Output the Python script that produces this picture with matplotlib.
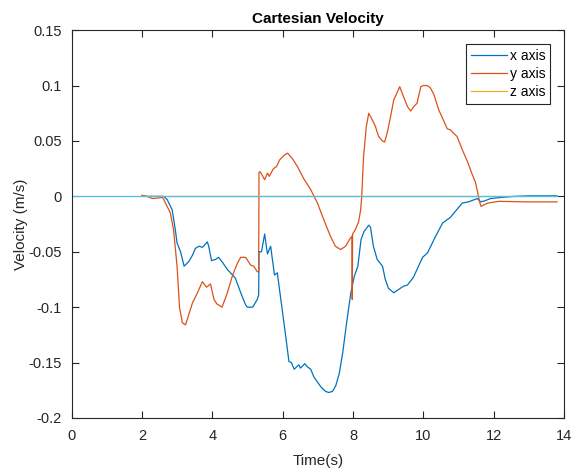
import numpy as np
import matplotlib
matplotlib.use("Agg")
import matplotlib.pyplot as plt

plt.rcParams['font.family'] = ['Liberation Sans', 'DejaVu Sans']

# x axis velocity (blue)
t_x = [2.0, 2.4, 2.62, 2.72, 2.86, 2.95, 3.0, 3.1, 3.2, 3.33, 3.44, 3.52, 3.62, 3.72,
       3.78, 3.86, 3.9, 3.98, 4.09, 4.18, 4.28, 4.43, 4.58, 4.66, 4.81, 4.95, 5.0, 5.15,
       5.28, 5.32, 5.33, 5.4, 5.49, 5.57, 5.66, 5.77, 5.85, 6.0, 6.1, 6.18, 6.25, 6.33,
       6.46, 6.51, 6.63, 6.71, 6.8, 6.89, 7.09, 7.22, 7.31, 7.42, 7.51, 7.61, 7.71, 7.82,
       7.94, 8.04, 8.14, 8.23, 8.31, 8.45, 8.5, 8.58, 8.69, 8.84, 8.92, 9.01, 9.16, 9.3,
       9.44, 9.55, 9.72, 9.85, 9.98, 10.12, 10.35, 10.55, 10.77, 10.95, 11.11, 11.28,
       11.45, 11.54, 11.63, 11.75, 11.91, 12.2, 12.6, 13.0, 13.8]
v_x = [0.0, 0.0, 0.0, -0.003, -0.012, -0.03, -0.042, -0.05, -0.063, -0.059, -0.053,
       -0.047, -0.045, -0.046, -0.044, -0.041, -0.045, -0.058, -0.057, -0.055, -0.059,
       -0.066, -0.071, -0.074, -0.087, -0.098, -0.1, -0.1, -0.093, -0.089, -0.05, -0.05,
       -0.034, -0.052, -0.045, -0.071, -0.069, -0.105, -0.129, -0.149, -0.15, -0.156,
       -0.152, -0.155, -0.151, -0.154, -0.156, -0.163, -0.172, -0.176, -0.177, -0.176,
       -0.171, -0.16, -0.141, -0.114, -0.087, -0.072, -0.063, -0.039, -0.032, -0.026,
       -0.028, -0.045, -0.057, -0.063, -0.075, -0.083, -0.087, -0.084, -0.081, -0.08,
       -0.073, -0.064, -0.055, -0.051, -0.036, -0.024, -0.019, -0.012, -0.006, -0.005,
       -0.003, -0.002, -0.005, -0.004, -0.002, -0.001, 0.0, 0.0005, 0.0005]

# y axis velocity (orange)
t_y = [2.0, 2.15, 2.3, 2.59, 2.67, 2.81, 2.9, 3.0, 3.07, 3.15, 3.24, 3.33, 3.44, 3.58,
       3.72, 3.84, 3.95, 4.05, 4.13, 4.28, 4.43, 4.58, 4.72, 4.81, 4.95, 5.09, 5.18, 5.28,
       5.32, 5.33, 5.37, 5.49, 5.57, 5.62, 5.74, 5.83, 5.92, 6.04, 6.14, 6.28, 6.42, 6.6,
       6.8, 6.99, 7.17, 7.36, 7.5, 7.65, 7.79, 7.9, 7.97, 7.98, 7.99, 8.07, 8.16, 8.22,
       8.25, 8.3, 8.38, 8.45, 8.55, 8.64, 8.73, 8.84, 8.9, 8.98, 9.07, 9.16, 9.26, 9.33,
       9.4, 9.55, 9.64, 9.73, 9.82, 9.93, 10.0, 10.11, 10.2, 10.3, 10.44, 10.54, 10.68,
       10.77, 10.86, 10.96, 11.11, 11.26, 11.4, 11.48, 11.55, 11.6, 11.64, 11.7, 11.84,
       12.15, 13.0, 13.8]
v_y = [0.001, 0.0, -0.002, -0.001, -0.006, -0.015, -0.03, -0.063, -0.1, -0.114, -0.116,
       -0.107, -0.096, -0.087, -0.077, -0.082, -0.079, -0.093, -0.097, -0.1, -0.087,
       -0.071, -0.06, -0.055, -0.055, -0.062, -0.063, -0.068, -0.068, 0.022, 0.022, 0.015,
       0.021, 0.018, 0.025, 0.027, 0.033, 0.037, 0.039, 0.034, 0.027, 0.016, 0.006,
       -0.006, -0.021, -0.036, -0.045, -0.048, -0.045, -0.039, -0.036, -0.093, -0.034,
       -0.03, -0.023, -0.012, 0.0, 0.035, 0.063, 0.075, 0.069, 0.063, 0.054, 0.05, 0.049,
       0.058, 0.072, 0.087, 0.094, 0.099, 0.093, 0.081, 0.077, 0.081, 0.084, 0.099, 0.1,
       0.1, 0.098, 0.092, 0.078, 0.071, 0.061, 0.06, 0.057, 0.054, 0.042, 0.031, 0.019,
       0.013, 0.003, -0.005, -0.009, -0.008, -0.006, -0.0045, -0.005, -0.005]

# z axis velocity (stays at zero)
t_z = [2.0, 13.8]
v_z = [0.0, 0.0]

# zero reference line
t_ref = [0.0, 13.8]
v_ref = [0.0, 0.0]

xticks = [0, 2, 4, 6, 8, 10, 12, 14]
yticks = [-0.2, -0.15, -0.1, -0.05, 0, 0.05, 0.1, 0.15]
ytick_labels = ["-0.2", "-0.15", "-0.1", "-0.05", "0", "0.05", "0.1", "0.15"]

fig = plt.figure(figsize=(5.74, 4.73), dpi=100)
ax = fig.add_axes([0.1246, 0.1163, 0.858, 0.820])

ax.plot(t_x, v_x, color='#0072BD', lw=0.9, label='x axis')
ax.plot(t_y, v_y, color='#D95319', lw=0.9, label='y axis')
ax.plot(t_z, v_z, color='#EDB120', lw=0.9, label='z axis')
ax.plot(t_ref, v_ref, color='#4DBEEE', lw=0.9)

ax.set_xlim(0, 14); ax.set_ylim(-0.2, 0.15)
ax.set_xticks(xticks); ax.set_xticklabels([str(v) for v in xticks])
ax.set_yticks(yticks); ax.set_yticklabels(ytick_labels)
ax.tick_params(direction='in', length=5, width=0.8, top=True, right=True,
               labelsize=10.5, colors='#262626')
ax.tick_params(axis='x', pad=8)
ax.tick_params(axis='y', pad=7)
for s in ax.spines.values():
    s.set_color('#262626'); s.set_linewidth(0.8)

ax.set_xlabel("Time(s)", fontsize=11, color='#262626', labelpad=8)
ax.set_ylabel("Velocity (m/s)", fontsize=11, color='#262626', labelpad=0)
ax.set_title("Cartesian Velocity", fontsize=11, fontweight='bold', pad=5)

leg = ax.legend(loc='upper right', bbox_to_anchor=(0.9716, 0.964), borderaxespad=0,
                fontsize=10, fancybox=False, framealpha=1, edgecolor='#262626',
                handlelength=2.6, handletextpad=0.2, labelspacing=0.3, borderpad=0.35)
leg.get_frame().set_linewidth(0.8)

fig.savefig("out.png", dpi=100)
